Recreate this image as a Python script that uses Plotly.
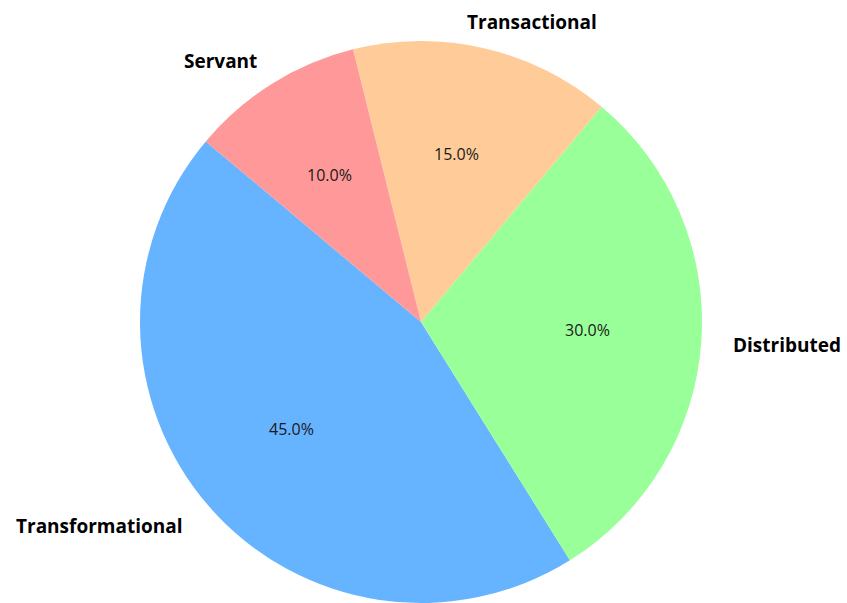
import math
import plotly.graph_objects as go

labels = ["Transformational", "Distributed", "Transactional", "Servant"]
values = [45, 30, 15, 10]
colors = ["#66b3ff", "#99ff99", "#ffcc99", "#ff9999"]

W, H = 847, 603
CX, CY, R = 421, 322, 281
START = 140  # degrees, counterclockwise from 3 o'clock

dom_x = [(CX - R) / W, (CX + R) / W]
dom_y = [1 - (CY + R) / H, 1 - (CY - R) / H]

total = sum(values)
first_end = START + values[0] / total * 360  # plotly anchors end of first slice
rotation = 90 - first_end
while rotation < -360:
    rotation += 360

fig = go.Figure(go.Pie(
    labels=labels, values=values, sort=False, direction="counterclockwise",
    rotation=rotation, marker=dict(colors=colors, line=dict(width=0)),
    textinfo="none", hoverinfo="label+percent", domain=dict(x=dom_x, y=dom_y),
))

ann = []
cum = 0
label_shift = {"Transactional": -26, "Transformational": -3, "Servant": 2, "Distributed": 2}
for lab, v in zip(labels, values):
    mid = math.radians(START + (cum + v / 2) / total * 360)
    cum += v
    c, s = math.cos(mid), math.sin(mid)
    ann.append(dict(x=(CX + 0.6 * R * c) / W, y=1 - (CY - 0.6 * R * s) / H,
                    xref="paper", yref="paper", showarrow=False, yshift=4, xshift=-2,
                    text=f"{v / total * 100:.1f}%",
                    font=dict(family="Open Sans", size=16, color="#1a1a1a"),
                    xanchor="center", yanchor="middle"))
    ann.append(dict(x=(CX + 1.1 * R * c) / W, y=1 - (CY - 1.1 * R * s) / H,
                    xref="paper", yref="paper", showarrow=False, yshift=-1,
                    text=f"<b>{lab}</b>", xshift=label_shift.get(lab, 0),
                    font=dict(family="Open Sans", size=19, color="#000"),
                    xanchor="left" if c > 0 else "right", yanchor="middle"))

fig.update_layout(
    width=W, height=H, margin=dict(l=0, r=0, t=0, b=0),
    paper_bgcolor="white", plot_bgcolor="white", showlegend=False,
    annotations=ann,
)
fig.write_html("out.html", config={"displayModeBar": False},
               post_script="document.body.style.margin='0';document.body.style.overflow='hidden';")
